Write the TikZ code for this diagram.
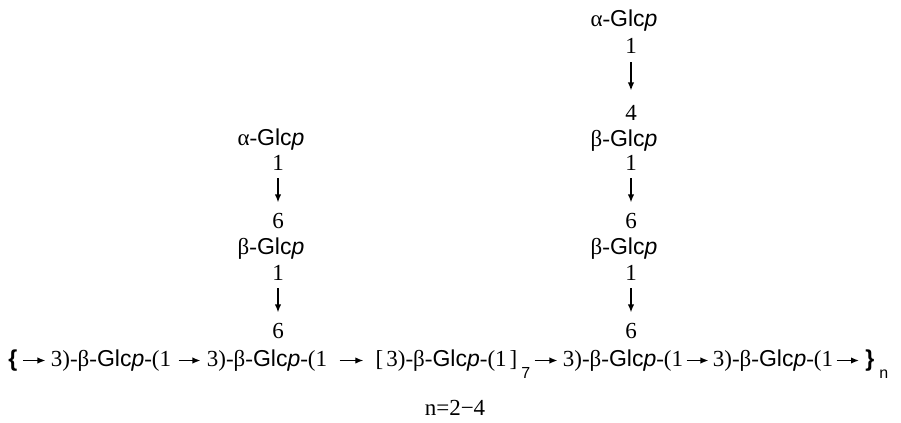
\documentclass[tikz,border=0pt]{standalone}
\usepackage{fontspec}
\setmainfont{Liberation Serif}
\newfontfamily\glcfont{Liberation Sans}
\usepackage{tikz}
\usetikzlibrary{arrows.meta,positioning}
\newcommand{\glcp}{{\glcfont Glc\textit{p}}}
\newcommand{\unittext}{3)-β-\glcp-(1}
\newcommand{\lowsub}[1]{\kern2pt\raisebox{-6pt}{\glcfont\fontsize{8}{8}\selectfont #1}}

\begin{document}
\begin{tikzpicture}[x=0.5pt,y=-0.5pt,>={Latex[length=4pt,width=3.2pt]}]
\tikzstyle{digit}=[inner sep=0pt,anchor=base,font=\fontsize{11.5}{13}\selectfont]
\tikzstyle{sugar}=[inner sep=0pt,anchor=base,font=\fontsize{11.5}{13}\selectfont]
\tikzstyle{unit}=[inner sep=0pt,anchor=base,text height=8.5pt,text depth=3pt,font=\fontsize{11.5}{13}\selectfont]
\tikzstyle{brace}=[unit,anchor=base west,font=\glcfont\bfseries\fontsize{11.5}{13}\selectfont]
\tikzstyle{link}=[->,line width=0.65pt,shorten <=2.5pt,shorten >=2.5pt]
\tikzstyle{bond}=[->,line width=0.65pt,shorten <=4pt,shorten >=5pt]
\useasboundingbox (0,0) rectangle (901,423);
% backbone
\node[brace] (lbr) at (8,366) {\{};
\node[unit] (uA) at (111,366) {\unittext};
\node[unit] (uB) at (267,366) {\unittext};
\node[unit] (uC) at (453,366) {[\kern1.5pt\unittext\kern1.5pt]\lowsub{7}};
\node[unit] (uD) at (623,366) {\unittext};
\node[unit] (uE) at (773,366) {\unittext};
\node[brace] (rbr) at (865,366) {\}\kern0.5pt\lowsub{\mdseries n}};
\draw[link] (lbr.east) -- (uA.west);
\draw[link,shorten <=3.5pt,shorten >=3pt] (uA.east) -- (uB.west);
\draw[link,shorten <=6pt,shorten >=6pt] (uB.east) -- (uC.west);
\draw[link,shorten <=2pt] (uC.east) -- (uD.west);
\draw[link,shorten <=1.5pt,shorten >=2pt] (uD.east) -- (uE.west);
\draw[link,shorten <=1.5pt,shorten >=3pt] (uE.east) -- (rbr.west);
% branch on the second unit
\node[sugar] (aglcL) at (271,145) {α-\glcp};
\node[digit] (oneLa) at (278,170) {1};
\node[digit] (sixLa) at (278,228) {6};
\node[sugar] (bglcL) at (271,254) {β-\glcp};
\node[digit] (oneLb) at (278,280) {1};
\node[digit] (sixLb) at (278,338) {6};
\draw[bond] (oneLa) -- (sixLa);
\draw[bond] (oneLb) -- (sixLb);
% branch on the fourth unit
\node[sugar] (aglcR) at (624,26) {α-\glcp};
\node[digit] (oneRa) at (631,54) {1};
\node[digit] (fourR) at (631,120) {4};
\node[sugar] (bglcRa) at (624,146) {β-\glcp};
\node[digit] (oneRb) at (631,170) {1};
\node[digit] (sixRa) at (631,228) {6};
\node[sugar] (bglcRb) at (624,254) {β-\glcp};
\node[digit] (oneRc) at (631,280) {1};
\node[digit] (sixRb) at (631,338) {6};
\draw[bond,shorten >=7pt] (oneRa) -- (fourR);
\draw[bond] (oneRb) -- (sixRa);
\draw[bond] (oneRc) -- (sixRb);
% repeat count
\node[digit] (nrange) at (455,415) {n=2−4};
\end{tikzpicture}
\end{document}
